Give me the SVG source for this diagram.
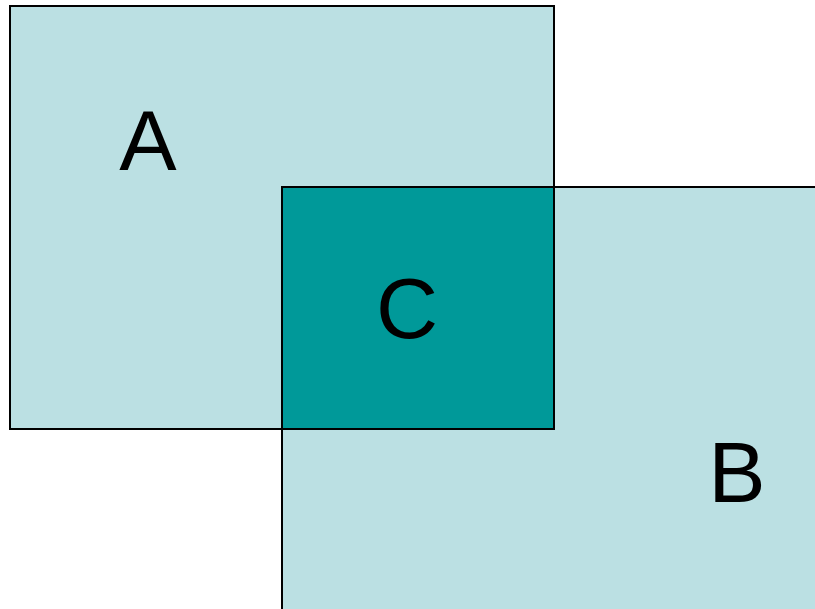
<svg xmlns="http://www.w3.org/2000/svg" width="815" height="609" viewBox="0 0 815 609">
<style>
.box{fill:#BBE0E3;stroke:#000;stroke-width:2}
.mid{fill:#009999;stroke:#000;stroke-width:2}
.lbl{font-family:"Liberation Sans",Arial,sans-serif;font-size:86px;fill:#000;text-anchor:middle}
</style>
<rect width="815" height="609" fill="#fff"/>
<g id="A"><rect class="box" x="10" y="6" width="544" height="423"/><text class="lbl" x="148" y="170">A</text></g>
<g id="B"><rect class="box" x="282" y="187" width="545" height="432"/><text class="lbl" x="737" y="502">B</text></g>
<g id="C"><rect class="mid" x="282" y="187" width="272" height="242"/><text class="lbl" x="407" y="338">C</text></g>
<g id="connectors"/>
</svg>
